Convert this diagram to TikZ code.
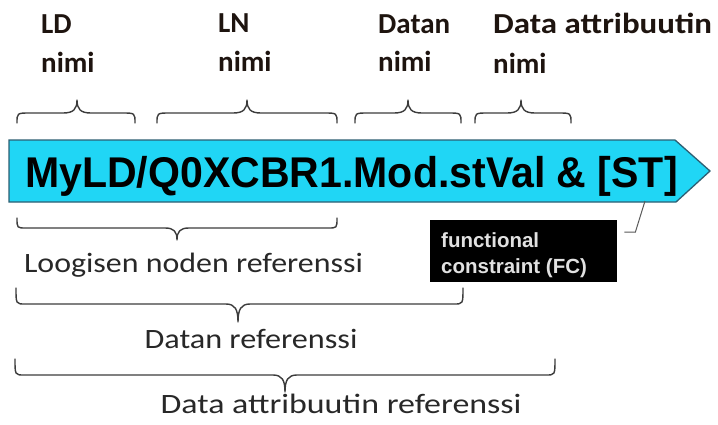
\documentclass[tikz,border=0pt]{standalone}
\usepackage{fontspec}
\usepackage{graphicx}
\setmainfont{Carlito}
\newfontfamily\arialfont{Liberation Sans}

\definecolor{refcyan}{RGB}{32,214,245}
\definecolor{refedge}{RGB}{45,95,115}
\definecolor{bracegray}{RGB}{60,60,60}
\definecolor{labelink}{RGB}{30,20,15}
\definecolor{noteink}{RGB}{40,40,40}
\definecolor{fcink}{RGB}{225,225,225}

\tikzset{
  bracestroke/.style={draw=bracegray, line width=1.4pt, line join=round, line cap=round},
  toplabel/.style={anchor=base west, inner sep=0pt, text=labelink,
    font=\fontsize{29}{31}\selectfont\bfseries},
  reflabel/.style={anchor=base, inner sep=0pt, text=noteink,
    font=\fontsize{28}{31}\selectfont},
  arrowbody/.style={fill=refcyan, draw=refedge, line width=1.3pt, line join=miter},
  fcbox/.style={fill=black, draw=black, minimum width=186pt, minimum height=61pt,
    inner sep=0pt, anchor=north west},
  fctext/.style={anchor=base west, inner sep=0pt, text=fcink,
    font=\arialfont\bfseries\fontsize{20.5}{24}\selectfont},
  leader/.style={draw=black!65, line width=1pt},
}

% curly brace: #1 left x, #2 tip x, #3 right x, #4 end y, #5 straight y, #6 tip y
\newcommand{\curly}[6]{%
  \draw[bracestroke] (#1,#4) .. controls (#1,#5) and (#1,#5) .. ({#1+\bcor},#5)
    -- ({#2-\btip},#5)
    .. controls ({#2-0.25*\btip},#5) and (#2,{#5+0.3*(#6-#5)}) .. (#2,#6)
    .. controls (#2,{#5+0.3*(#6-#5)}) and ({#2+0.25*\btip},#5) .. ({#2+\btip},#5)
    -- ({#3-\bcor},#5)
    .. controls (#3,#5) and (#3,#5) .. (#3,#4);}

\begin{document}
\begin{tikzpicture}[x=1pt, y=-1pt]
  \useasboundingbox[fill=white] (0,0) rectangle (718,424);

  % name labels above the path
  \node[toplabel] (ld1) at (41,33) {LD};
  \node[toplabel] (ld2) at (41,72) {nimi};
  \node[toplabel] (ln1) at (218,32) {LN};
  \node[toplabel] (ln2) at (218,71) {nimi};
  \node[toplabel] (do1) at (378,33) {Datan};
  \node[toplabel] (do2) at (378,71) {nimi};
  \node[toplabel] (da1) at (493,33) {\scalebox{1.135}[1]{Data attribuutin}};
  \node[toplabel] (da2) at (493,73) {nimi};

  % braces over the segments
  \def\bcor{13}\def\btip{14}
  \curly{17}{77}{135}{123}{113}{100}
  \curly{157}{247}{337}{123}{113}{100}
  \curly{355}{408}{461}{123}{113}{100}
  \curly{475}{521}{571}{123}{113}{100}

  % the object reference arrow
  \draw[arrowbody] (9,140) -- (675,140) -- (710,171) -- (676,202) -- (9,202) -- cycle;
  \node[anchor=base west, inner sep=0pt, text=black,
        font=\arialfont\bfseries\fontsize{43}{48}\selectfont] (objref) at (25,187)
        {\scalebox{0.955}[1]{MyLD/Q0XCBR1.Mod.stVal \& [ST]}};

  % functional constraint call-out
  \node[fcbox] (fc) at (430,220) {};
  \node[fctext] (fc1) at (441,247) {functional};
  \node[fctext] (fc2) at (441,273) {constraint (FC)};
  \coordinate (fctip) at (645,201);
  \draw[leader] ([shift={(8,12)}]fc.north east) -- ++(11,0) -- (fctip);

  % braces under the path
  \def\bcor{9}\def\btip{12}
  \curly{17}{177}{337}{218}{228}{240}
  \node[reflabel] (lnref) at (193.5,272) {\scalebox{1.14}[1]{Loogisen noden referenssi}};
  \curly{16}{238}{463}{288}{304}{322}
  \node[reflabel] (doref) at (251,348) {\scalebox{1.15}[1]{Datan referenssi}};
  \curly{15}{285}{555}{359}{375}{392}
  \node[reflabel] (daref) at (341,413) {\scalebox{1.21}[1]{Data attribuutin referenssi}};
\end{tikzpicture}
\end{document}
